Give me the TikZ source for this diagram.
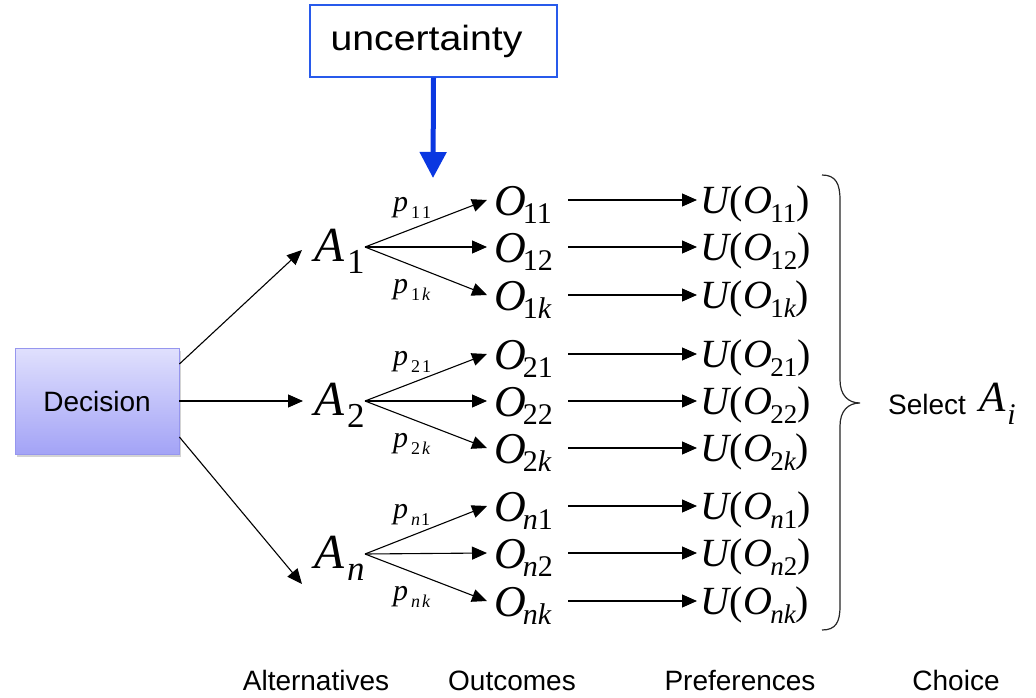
\documentclass[tikz,border=0pt]{standalone}
\usepackage{fontspec}
\setmainfont{Liberation Serif}
\newfontfamily\arialf{Liberation Sans}
\usetikzlibrary{arrows.meta,shadows}
\definecolor{ublue}{RGB}{10,55,225}
\definecolor{uborder}{RGB}{40,90,235}
\definecolor{dectop}{RGB}{224,224,253}
\definecolor{decbot}{RGB}{163,163,246}
\definecolor{decborder}{RGB}{150,150,238}
\newcommand\Aalt[1]{{\fontsize{49}{49}\selectfont\itshape A}\kern3pt\raisebox{-12pt}{\fontsize{35}{35}\selectfont #1}}
\newcommand\Oout[1]{{\fontsize{44}{44}\selectfont\itshape O}\kern-3pt\raisebox{-8pt}{\fontsize{30}{30}\selectfont #1}}
\newcommand\Uout[1]{{\fontsize{40}{40}\selectfont{\itshape U}(\kern1pt{\itshape O}\kern-2pt\raisebox{-9pt}{\fontsize{27}{27}\selectfont #1})}}
\newcommand\Plab[1]{{\fontsize{30}{30}\selectfont\itshape p}\kern3pt\raisebox{-7pt}{\fontsize{18}{18}\selectfont #1}}
\begin{document}
\begin{tikzpicture}[x=1pt,y=-1pt,
  line/.style={line width=1.1pt, draw=black},
  arr/.style={line, -{Triangle[length=15pt,width=13pt]}},
  lbl/.style={inner sep=0pt, anchor=base west},
  sans/.style={inner sep=0pt, anchor=base, font=\arialf\fontsize{28}{28}\selectfont},
]
\useasboundingbox (0,0) rectangle (1036,698);

% uncertainty
\node[draw=uborder, line width=1.3pt, fill=white, minimum width=247pt, minimum height=72pt, inner sep=0pt,
      font=\arialf\fontsize{35}{35}\selectfont] (unc) at (433.5,41)
      {\scalebox{1.12}[1]{uncertainty}\hspace*{14pt}};
\coordinate (uncTip) at (433,178);
\draw[ublue, line width=5pt, -{Triangle[length=26pt,width=26pt]}] (unc.south) -- (uncTip);

% Decision
\node[draw=decborder, line width=0.8pt, top color=dectop, bottom color=decbot,
      drop shadow={shadow xshift=2pt, shadow yshift=-3pt, opacity=0.35},
      minimum width=164pt, minimum height=106pt, inner sep=0pt,
      font=\arialf\fontsize{28}{28}\selectfont] (dec) at (97,401) {Decision};

% Alternatives
\node[lbl] (A1) at (314,261) {\Aalt{1}};
\node[lbl] (A2) at (314,415) {\Aalt{2}};
\node[lbl] (An) at (314,568) {\Aalt{\itshape n}};

\draw[arr] ([yshift=37pt]dec.east) -- ([shift={(-12pt,11pt)}]A1.base west);
\draw[arr] (dec.east) -- ([shift={(-11pt,14pt)}]A2.base west);
\draw[arr] ([yshift=-36pt]dec.east) -- ([shift={(-12pt,-16pt)}]An.base west);

% Outcomes
\node[lbl] (O11) at (494,215) {\Oout{11}};
\node[lbl] (O12) at (494,262) {\Oout{12}};
\node[lbl] (O1k) at (494,310) {\Oout{1{\itshape k}}};
\node[lbl] (O21) at (494,369) {\Oout{21}};
\node[lbl] (O22) at (494,416) {\Oout{22}};
\node[lbl] (O2k) at (494,463) {\Oout{2{\itshape k}}};
\node[lbl] (On1) at (494,521) {\Oout{{\itshape n}1}};
\node[lbl] (On2) at (494,568) {\Oout{{\itshape n}2}};
\node[lbl] (Onk) at (494,616) {\Oout{{\itshape nk}}};

% probabilities
\node[lbl] (p11) at (393,211) {\Plab{1\kern2pt 1}};
\node[lbl] (p1k) at (393,293) {\Plab{1\kern2pt{\itshape k}}};
\node[lbl] (p21) at (393,365) {\Plab{2\kern2pt 1}};
\node[lbl] (p2k) at (393,447) {\Plab{2\kern2pt{\itshape k}}};
\node[lbl] (pn1) at (393,518) {\Plab{{\itshape n}\kern1pt 1}};
\node[lbl] (pnk) at (393,600) {\Plab{{\itshape n}\kern2pt{\itshape k}}};

% branches
\foreach \a/\o in {A1/O11,A1/O12,A1/O1k,A2/O21,A2/O22,A2/O2k,An/On1,An/On2,An/Onk}{
  \draw[arr] ([shift={(51pt,14pt)}]\a.base west) -- ([shift={(-7pt,15pt)}]\o.base west);
}

% Preferences
\foreach \o/\u/\s/\y in {O11/U11/11/213, O12/U12/12/260, O1k/U1k/1{\itshape k}/308,
                        O21/U21/21/367, O22/U22/22/414, O2k/U2k/2{\itshape k}/461,
                        On1/Un1/{\itshape n}1/519, On2/Un2/{\itshape n}2/566, Onk/Unk/{\itshape nk}/614}{
  \node[lbl] (\u) at (700,\y) {\Uout{\s}};
  \draw[arr] ([shift={(74pt,15pt)}]\o.base west) -- ([shift={(-3pt,13pt)}]\u.base west);
}

% brace
\draw[line width=1.2pt, draw=black!85]
  (822,175) .. controls (836,175) and (840,184) .. (840,200)
  -- (840,380) .. controls (840,395) and (848,403) .. (860,403)
  .. controls (848,403) and (840,411) .. (840,426)
  -- (840,606) .. controls (840,622) and (836,630) .. (822,630);

% choice
\node[lbl, font=\arialf\fontsize{28}{28}\selectfont] (sel) at (888,414) {Select};
\node[lbl] (Ai) at (979,411) {{\fontsize{43}{43}\selectfont\itshape A}\kern2pt\raisebox{-13pt}{\fontsize{30}{30}\selectfont\itshape i}};

% column labels
\node[sans] (cAlt) at (316,690) {Alternatives};
\node[sans] (cOut) at (512,690) {Outcomes};
\node[sans] (cPref) at (740,690) {Preferences};
\node[sans] (cCho) at (956,690) {Choice};
\end{tikzpicture}
\end{document}
